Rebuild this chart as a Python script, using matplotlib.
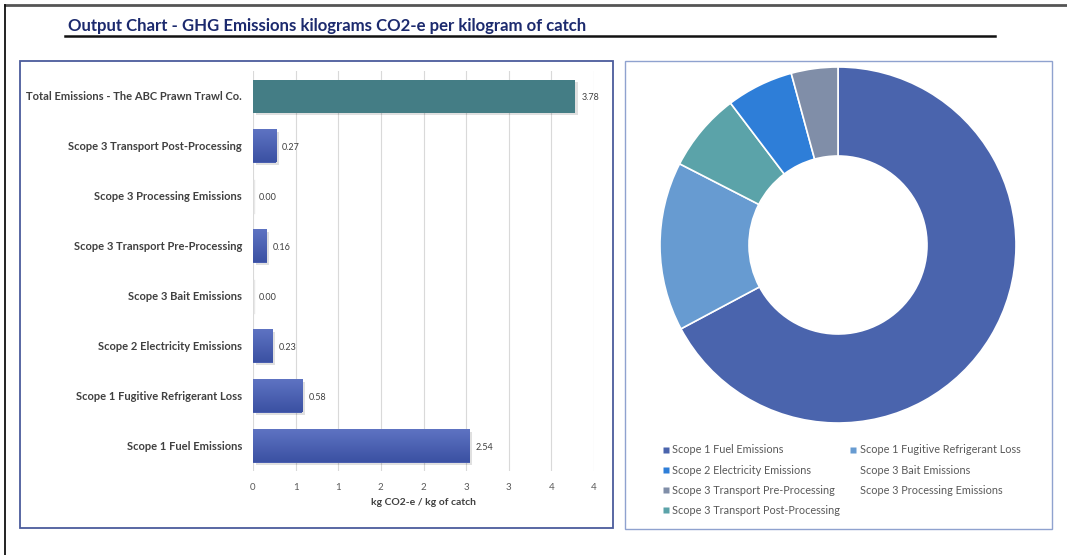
import matplotlib.pyplot as plt
import numpy as np
from matplotlib.patches import Rectangle
from matplotlib.lines import Line2D

plt.rcParams['font.family'] = ['Lato', 'DejaVu Sans']

W, H = 1067, 555

# data
categories = ["Scope 1 Fuel Emissions", "Scope 1 Fugitive Refrigerant Loss",
              "Scope 2 Electricity Emissions", "Scope 3 Bait Emissions",
              "Scope 3 Transport Pre-Processing", "Scope 3 Processing Emissions",
              "Scope 3 Transport Post-Processing", "Total Emissions - The ABC Prawn Trawl Co."]
values = [2.54, 0.58, 0.23, 0.00, 0.16, 0.00, 0.27, 3.78]
xticks = [0, 0.5, 1, 1.5, 2, 2.5, 3, 3.5, 4]
xtick_labels = ["0", "1", "1", "2", "2", "3", "3", "4", "4"]

# donut, clockwise from top
pie_labels = ["Scope 1 Fuel Emissions", "Scope 1 Fugitive Refrigerant Loss",
              "Scope 3 Transport Post-Processing", "Scope 2 Electricity Emissions",
              "Scope 3 Transport Pre-Processing"]
pie_values = [2.54, 0.58, 0.27, 0.23, 0.16]
pie_colors = {"Scope 1 Fuel Emissions": "#4A64AD",
              "Scope 1 Fugitive Refrigerant Loss": "#679BD1",
              "Scope 2 Electricity Emissions": "#2E7ED8",
              "Scope 3 Bait Emissions": "none",
              "Scope 3 Transport Pre-Processing": "#808EA8",
              "Scope 3 Processing Emissions": "none",
              "Scope 3 Transport Post-Processing": "#5BA3A9"}
legend_order = ["Scope 1 Fuel Emissions", "Scope 2 Electricity Emissions",
                "Scope 3 Transport Pre-Processing", "Scope 3 Transport Post-Processing",
                "Scope 1 Fugitive Refrigerant Loss", "Scope 3 Bait Emissions",
                "Scope 3 Processing Emissions"]


def box(x0, y0, x1, y1):
    # pixel box (top-left origin) -> figure fractions
    return [x0 / W, 1 - y1 / H, (x1 - x0) / W, (y1 - y0) / H]


fig = plt.figure(figsize=(W / 100, H / 100), dpi=100)

# outer frame + title
fig.add_artist(Line2D([5 / W, 1], [1 - 5 / H, 1 - 5 / H], color="#555555", lw=2))
fig.add_artist(Line2D([5 / W, 5 / W], [1 - 5 / H, 0], color="#111111", lw=1.3))
fig.text(68 / W, 1 - 26 / H, "Output Chart - GHG Emissions kilograms CO2-e per kilogram of catch",
         fontsize=12.05, fontweight="bold", color="#1C2A6E", va="center")
fig.add_artist(Line2D([65 / W, 995 / W], [1 - 36 / H, 1 - 36 / H], color="#111111", lw=1.8))

# panel borders
for (x0, y0, x1, y1), c, lw in [((20, 61, 613, 528), "#4B5C9C", 1.3),
                                ((625, 61, 1052, 529), "#8FA2CF", 1.0)]:
    r = Rectangle((x0 / W, 1 - y1 / H), (x1 - x0) / W, (y1 - y0) / H,
                  transform=fig.transFigure, fill=False, edgecolor=c, lw=lw)
    fig.add_artist(r)

# bar chart
ax = fig.add_axes(box(253, 71, 594, 471))
y = np.arange(len(categories))
colors = ["#4A5FB0"] * (len(categories) - 1) + ["#447D85"]
bars = ax.barh(y, values, height=0.66, color=colors, zorder=3)
for b, c in zip(bars, colors):
    bx, by = b.get_x(), b.get_y()
    bw, bh = b.get_width(), b.get_height()
    if bw <= 0:
        ax.plot([0.01, 0.01], [by, by + bh], color="#E8E8E8", lw=1, zorder=3)
        continue
    # soft drop shadow
    ax.add_patch(Rectangle((bx + 0.03, by - 0.05), bw, bh, color="#000000",
                           alpha=0.12, zorder=2, lw=0))
    if c != "#447D85":
        grad = np.linspace(0, 1, 50).reshape(-1, 1)
        ax.imshow(grad, extent=(bx, bx + bw, by, by + bh), aspect="auto",
                  cmap=plt.matplotlib.colors.LinearSegmentedColormap.from_list(
                      "g", ["#3B51A3", "#5E73C2"]), zorder=4, origin="lower")
for yi, v in zip(y, values):
    ax.text(v + 0.07, yi - 0.02, f"{v:.2f}", va="center", ha="left", fontsize=6.5, color="#404040")
ax.set_xlim(0, 4)
ax.set_ylim(-0.5, len(categories) - 0.5)
ax.set_xticks(xticks)
ax.set_xticklabels(xtick_labels, fontsize=7, color="#595959")
ax.set_yticks(y)
ax.set_yticklabels(categories, fontsize=8, fontweight="bold", color="#404040")
ax.tick_params(length=0, pad=8, axis="y")
ax.tick_params(length=0, pad=9, axis="x")
ax.grid(axis="x", color="#D9D9D9", lw=0.8, zorder=0)
for s in ax.spines.values():
    s.set_visible(False)
ax.set_xlabel("kg CO2-e / kg of catch", fontsize=7.5, fontweight="bold", color="#404040", labelpad=4)

# donut
R = 178
pax = fig.add_axes(box(838 - R, 245 - R, 838 + R, 245 + R))
pax.pie(pie_values, colors=[pie_colors[l] for l in pie_labels], startangle=90,
        counterclock=False, radius=1,
        wedgeprops=dict(width=0.5, edgecolor="white", linewidth=1.2))
pax.set_xlim(-1, 1)
pax.set_ylim(-1, 1)

handles = [Line2D([], [], marker="s", ls="none", markersize=5,
                  markerfacecolor=pie_colors[l], markeredgecolor="none") for l in legend_order]
fig.legend(handles, legend_order, ncol=2, loc="upper left",
           bbox_to_anchor=(656 / W, 1 - 439 / H), frameon=False, fontsize=7.8,
           labelcolor="#595959", handlelength=0.8, handletextpad=0.2,
           columnspacing=0.8, labelspacing=0.85, borderpad=0)

fig.savefig("out.png", dpi=100)
